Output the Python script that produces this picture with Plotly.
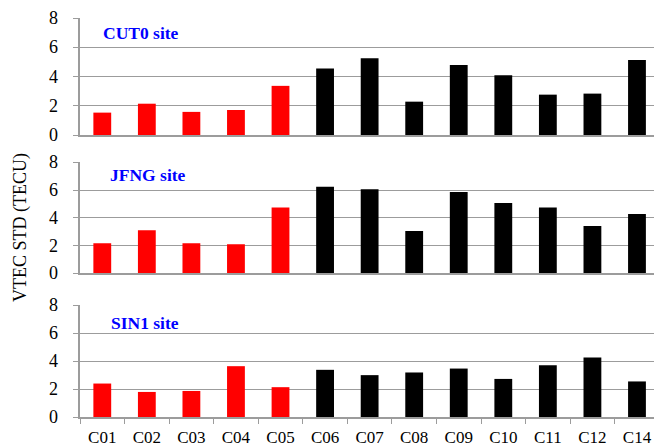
import plotly.graph_objects as go

# BeiDou satellites (C13 not observed)
satellites = ["C01", "C02", "C03", "C04", "C05", "C06", "C07",
              "C08", "C09", "C10", "C11", "C12", "C14"]
orbit_type = ["GEO"] * 5 + ["IGSO"] * 5 + ["MEO"] * 3

# VTEC standard deviation (TECU) per station
sites = ["CUT0", "JFNG", "SIN1"]
cut0_std = [1.53, 2.14, 1.58, 1.71, 3.36, 4.54, 5.25, 2.28, 4.79, 4.09, 2.76, 2.83, 5.12]
jfng_std = [2.16, 3.10, 2.16, 2.09, 4.75, 6.24, 6.05, 3.05, 5.86, 5.07, 4.75, 3.41, 4.27]
sin1_std = [2.39, 1.79, 1.86, 3.63, 2.13, 3.37, 2.99, 3.18, 3.46, 2.72, 3.70, 4.25, 2.54]

y_ticks = [0, 2, 4, 6, 8]

orbit_colors = {"GEO": "#ff0000", "IGSO": "#000000", "MEO": "#000000"}
bar_colors = [orbit_colors[o] for o in orbit_type]

FONT = "Liberation Serif, Times New Roman, serif"
GRID = "#9c9c9c"

W, H = 654, 448
ML, MR, MT, MB = 80, 0, 18, 31
plot_w = W - ML - MR
plot_h = H - MT - MB


def to_paper(py):
    return (H - MB - py) / plot_h


# panel pixel extents (top, bottom) for 8 and 0
panels = [(18, 135), (162.3, 273.3), (305, 417)]
label_px = [(101, 33), (107.7, 175), (109, 323)]

fig = go.Figure()
series = [cut0_std, jfng_std, sin1_std]
for i, vals in enumerate(series):
    suffix = "" if i == 0 else str(i + 1)
    fig.add_trace(go.Bar(
        x=satellites, y=vals, marker=dict(color=bar_colors, line=dict(width=0)),
        width=0.4, xaxis="x" + suffix, yaxis="y" + suffix, showlegend=False,
    ))

layout = dict(
    width=W, height=H,
    margin=dict(l=ML, r=MR, t=MT, b=MB, autoexpand=False),
    paper_bgcolor="white", plot_bgcolor="white",
    font=dict(family=FONT, size=17, color="black"),
    bargap=0.6,
)

annotations = []
x_end = 12 + (654 - 637) / 44.5
for i, (ptop, pbot) in enumerate(panels):
    suffix = "" if i == 0 else str(i + 1)
    last = i == len(panels) - 1
    layout["xaxis" + suffix] = dict(
        domain=[0, 1], anchor="y" + suffix, type="category",
        categoryorder="array", categoryarray=satellites,
        range=[-0.5, x_end], automargin=False,
        showline=True, linecolor=GRID, linewidth=1.5,
        showgrid=False, zeroline=False,
        showticklabels=last,
        ticks="outside" if last else "", tickson="boundaries",
        ticklen=5, tickcolor=GRID, tickwidth=1.3,
        tickfont=dict(family=FONT, size=17),
        ticklabelstandoff=4,
    )
    if i > 0:
        layout["xaxis" + suffix]["matches"] = "x"
    layout["yaxis" + suffix] = dict(
        domain=[to_paper(pbot), to_paper(ptop)], anchor="x" + suffix,
        range=[0, 8], tickvals=y_ticks, showticklabels=False,
        automargin=False,
        showgrid=True, gridcolor=GRID, gridwidth=1.3,
        showline=True, linecolor=GRID, linewidth=1.5,
        zeroline=False, ticks="outside", ticklen=5, tickcolor=GRID, tickwidth=1.3,
    )
    # y tick labels, set a little further out from the axis
    for t in y_ticks:
        annotations.append(dict(
            text=str(t), xref="paper", yref="y" + suffix,
            x=(60 - ML) / plot_w, y=t, xanchor="right", yanchor="middle",
            showarrow=False, font=dict(family=FONT, size=18, color="black"),
        ))

for name, (lx, ly) in zip(sites, label_px):
    annotations.append(dict(
        text=f"<b>{name} site</b>", xref="paper", yref="paper",
        x=(lx - ML) / plot_w, y=to_paper(ly),
        xanchor="left", yanchor="middle", showarrow=False,
        font=dict(family=FONT, size=17.5, color="#0000ff"),
    ))
annotations.append(dict(
    text="VTEC STD (TECU)", xref="paper", yref="paper",
    x=(20 - ML) / plot_w, y=to_paper(228),
    xanchor="center", yanchor="middle", textangle=-90, showarrow=False,
    font=dict(family=FONT, size=18, color="black"),
))
layout["annotations"] = annotations

fig.update_layout(**layout)
fig.write_html("out.html")
